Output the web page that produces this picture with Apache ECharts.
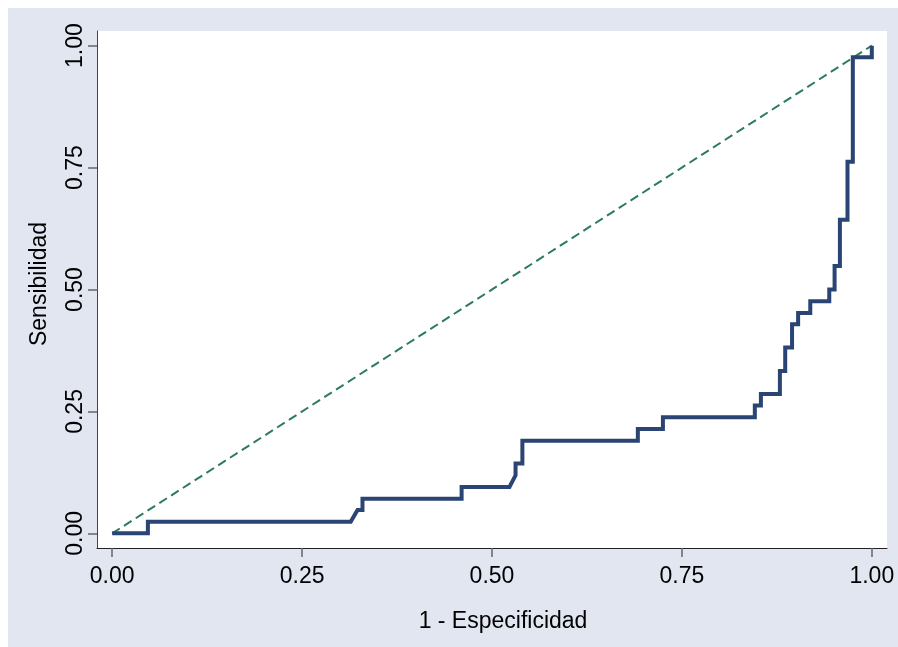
<!DOCTYPE html>
<html>
<head>
<meta charset="utf-8">
<script src="https://cdn.jsdelivr.net/npm/echarts@6/dist/echarts.min.js"></script>
<style>
  html, body { margin: 0; padding: 0; background: #ffffff; width: 898px; height: 647px; overflow: hidden; }
  #chart { position: absolute; left: 8px; top: 8px; width: 890px; height: 639px; }
</style>
</head>
<body>
<div id="chart"></div>
<script>
// ROC curve vertices (1 - Especificidad, Sensibilidad)
const rocX = [0, 0.047, 0.047, 0.314, 0.323, 0.3295, 0.3295, 0.460, 0.460, 0.523, 0.531, 0.531, 0.540, 0.540,
  0.692, 0.692, 0.725, 0.725, 0.846, 0.846, 0.854, 0.854, 0.879, 0.879, 0.886, 0.886, 0.895, 0.895,
  0.903, 0.903, 0.919, 0.919, 0.944, 0.944, 0.951, 0.951, 0.958, 0.958, 0.968, 0.968, 0.975, 0.975, 1.0, 1.0];
const rocY = [0, 0, 0.024, 0.024, 0.048, 0.048, 0.071, 0.071, 0.095, 0.095, 0.119, 0.143, 0.143, 0.190,
  0.190, 0.214, 0.214, 0.238, 0.238, 0.262, 0.262, 0.286, 0.286, 0.333, 0.333, 0.381, 0.381, 0.429,
  0.429, 0.452, 0.452, 0.476, 0.476, 0.500, 0.500, 0.548, 0.548, 0.643, 0.643, 0.762, 0.762, 0.976, 0.976, 1.0];
// Reference (chance) line
const refX = [0, 1];
const refY = [0, 1];
// Tick values
const tickValues = [0, 0.25, 0.5, 0.75, 1];

const xTitle = '1 - Especificidad';
const yTitle = 'Sensibilidad';

const FONT = '"Liberation Sans", Arial, "DejaVu Sans", sans-serif';

const chart = echarts.init(document.getElementById('chart'), null, { renderer: 'canvas' });
chart.setOption({
  animation: false,
  backgroundColor: '#e1e6f1',
  grid: {
    left: 89, top: 23, right: 11, bottom: 99,
    show: true, backgroundColor: '#ffffff', borderWidth: 0
  },
  xAxis: {
    type: 'value',
    min: -0.02, max: 1.02,
    name: xTitle,
    nameLocation: 'middle',
    nameGap: 62,
    nameTextStyle: { fontFamily: FONT, fontSize: 23, color: '#000', padding: [0, 0, 0, 22] },
    axisLine: { show: true, onZero: false, lineStyle: { color: '#222', width: 1 } },
    axisTick: { show: true, length: 9, customValues: tickValues, lineStyle: { color: '#666', width: 1.5 } },
    axisLabel: {
      customValues: tickValues,
      margin: 17,
      fontFamily: FONT, fontSize: 23, color: '#000',
      formatter: v => v.toFixed(2)
    },
    splitLine: { show: false }
  },
  yAxis: {
    type: 'value',
    min: -0.03, max: 1.03,
    name: yTitle,
    nameLocation: 'middle',
    nameGap: 46,
    nameTextStyle: { fontFamily: FONT, fontSize: 23, color: '#000', padding: [0, 0, 0, 11] },
    axisLine: { show: true, onZero: false, lineStyle: { color: '#444', width: 1 } },
    axisTick: { show: true, length: 9, customValues: tickValues, lineStyle: { color: '#666', width: 1.5 } },
    axisLabel: {
      customValues: tickValues,
      rotate: 90,
      margin: 10,
      fontFamily: FONT, fontSize: 23, color: '#000',
      formatter: v => v.toFixed(2)
    },
    splitLine: { show: false }
  },
  series: [
    {
      type: 'line',
      data: refX.map((x, i) => [x, refY[i]]),
      showSymbol: false,
      symbol: 'none',
      lineStyle: { color: '#2d7a63', width: 2, type: [9, 5] },
      z: 2
    },
    {
      type: 'line',
      data: rocX.map((x, i) => [x, rocY[i]]),
      showSymbol: false,
      symbol: 'none',
      lineStyle: { color: '#2a4473', width: 4, cap: 'butt', join: 'miter' },
      z: 3
    }
  ]
});
</script>
</body>
</html>
